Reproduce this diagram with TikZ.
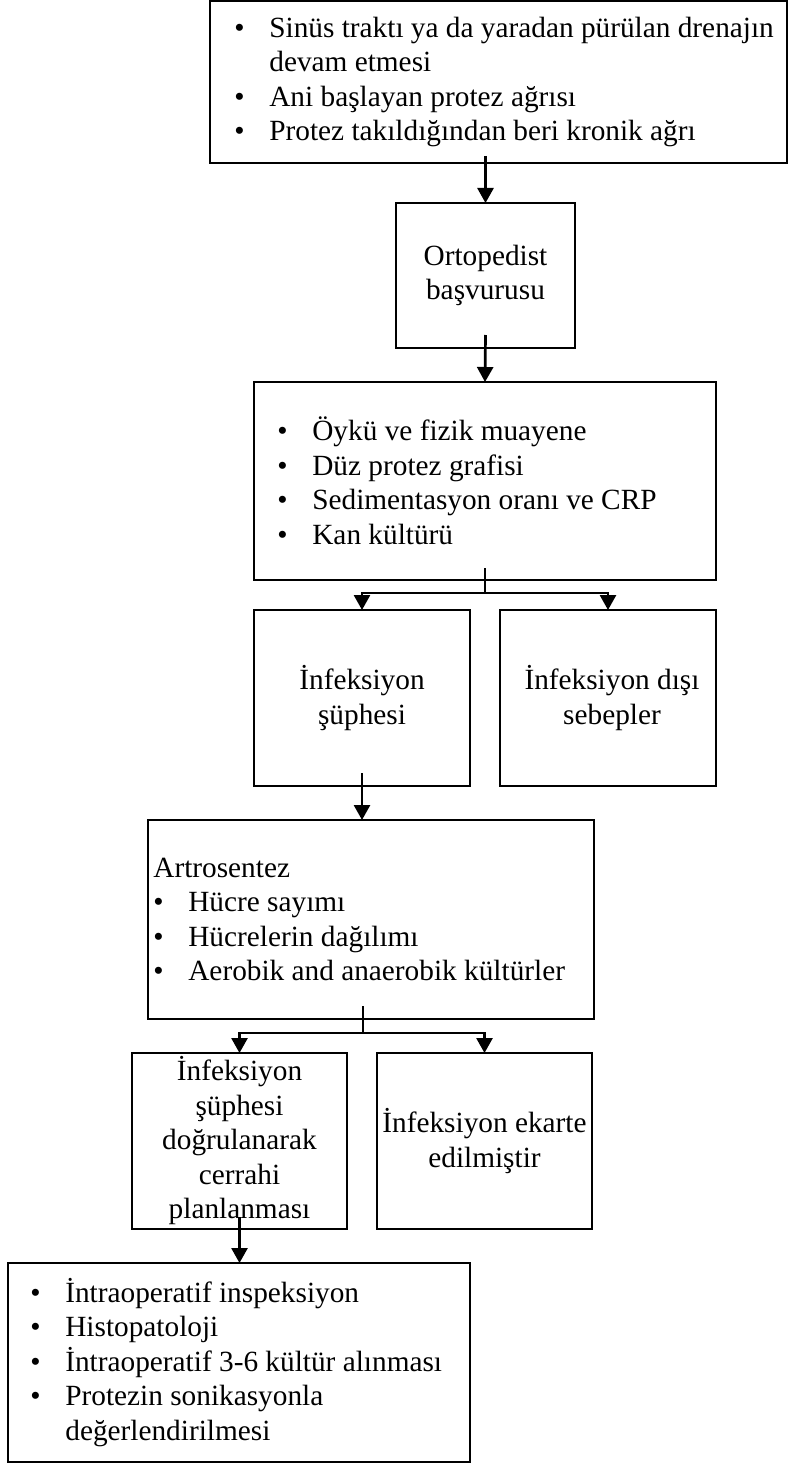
\documentclass[tikz,border=0pt]{standalone}
\usepackage{fontspec}
\setmainfont{Liberation Serif}
\usetikzlibrary{arrows.meta,positioning}
\newcommand{\itm}{\makebox[35pt][l]{\textbullet}}
\newcommand{\gap}{\hspace*{35pt}}

\begin{document}
\begin{tikzpicture}[x=1pt,y=-1pt,>={Triangle[length=15pt,width=16pt]},line width=2.7pt,
  font=\fontsize{29.3}{34.5}\selectfont]
  \tikzset{box/.style={draw,inner sep=1pt,outer sep=0pt,align=center},
    lst/.style={inner sep=0pt,align=left,anchor=west}}
  \useasboundingbox (0,0) rectangle (789,1463);
  \node[box,minimum width=577,minimum height=162] (b1) at (498.5,82) {};
  \node[lst] (l1) at ([xshift=23pt]b1.west) {\itm Sinüs traktı ya da yaradan pürülan drenajın\\
    \gap devam etmesi\\ \itm Ani başlayan protez ağrısı\\ \itm Protez takıldığından beri kronik ağrı};
  \node[box,minimum width=179,minimum height=145] (b2) at (485.5,275.5) {Ortopedist\\başvurusu};
  \node[box,minimum width=462,minimum height=198] (b3) at (485,481) {};
  \node[lst] (l3) at ([xshift=22pt]b3.west) {\itm Öykü ve fizik muayene\\ \itm Düz protez grafisi\\
    \itm Sedimentasyon oranı ve CRP\\ \itm Kan kültürü};
  \node[box,minimum width=216,minimum height=176] (b4) at (362,698) {İnfeksiyon\\şüphesi};
  \node[box,minimum width=216,minimum height=176] (b5) at (608,698) {\hspace*{8pt}İnfeksiyon dışı\\\hspace*{8pt}sebepler};
  \node[box,minimum width=446,minimum height=199] (b6) at (371,919.5) {};
  \node[lst] (l6) at ([xshift=4pt]b6.west) {Artrosentez\\ \itm Hücre sayımı\\ \itm Hücrelerin dağılımı\\
    \itm Aerobik and anaerobik kültürler};
  \node[box,minimum width=215,minimum height=176] (b7) at (239.5,1141) {İnfeksiyon\\şüphesi\\doğrulanarak\\cerrahi\\planlanması};
  \node[box,minimum width=215,minimum height=176] (b8) at (484.5,1141) {İnfeksiyon ekarte\\edilmiştir};
  \node[box,minimum width=462,minimum height=199] (b9) at (239,1362.5) {};
  \node[lst] (l9) at ([xshift=21pt]b9.west) {\itm İntraoperatif inspeksiyon\\ \itm Histopatoloji\\
    \itm İntraoperatif 3-6 kültür alınması\\ \itm Protezin sonikasyonla\\ \gap değerlendirilmesi};
  \coordinate[below=13pt of b3.south] (j1);
  \coordinate (j2) at (363,1033);
  \draw[->] ([yshift=7pt]b1.south -| b2.north) -- (b2.north);
  \draw[->] ([yshift=13pt]b2.south) -- (b3.north);
  \draw ([yshift=12pt]b3.south) -- (j1);
  \draw[->] (j1) -| (b4.north);
  \draw[->] (j1) -| (b5.north);
  \draw[->] ([yshift=13pt]b4.south) -- (b4.south |- b6.north);
  \draw ([yshift=13pt]b6.south -| j2) -- (j2);
  \draw[->] (j2) -| (b7.north);
  \draw[->] (j2) -| (b8.north);
  \draw[->] ([yshift=12pt]b7.south) -- (b7.south |- b9.north);
\end{tikzpicture}
\end{document}
